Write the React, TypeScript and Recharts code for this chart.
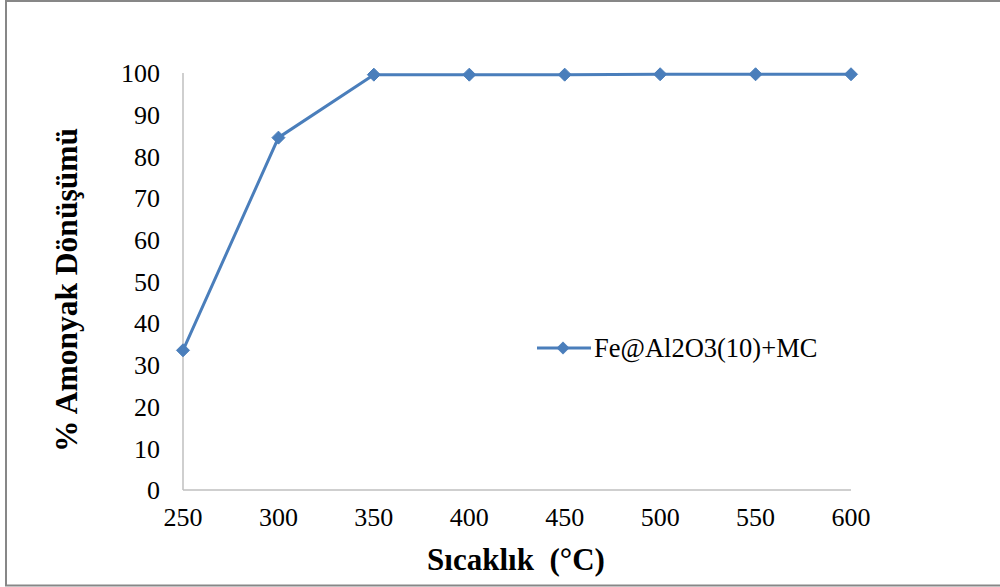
import { LineChart, Line, XAxis, YAxis, Legend } from "recharts";

const temperatures = [250, 300, 350, 400, 450, 500, 550, 600];
const conversion = [33.5, 84.5, 99.6, 99.6, 99.6, 99.7, 99.7, 99.7];
const yTicks = [0, 10, 20, 30, 40, 50, 60, 70, 80, 90, 100];
const seriesName = "Fe@Al2O3(10)+MC";
const xTitle = "Sıcaklık  (°C)";
const yTitle = "% Amonyak Dönüşümü";

const data = temperatures.map((t, i) => ({ t, v: conversion[i] }));

const BLUE = "#4A7EBB";
const AXIS = "#BFBFBF";
const FONT = "Liberation Serif";

const Diamond = (props: any) => {
  const { cx, cy } = props;
  if (cx == null || cy == null) return null;
  const r = 6.5;
  return (
    <polygon
      points={`${cx},${cy - r} ${cx + r},${cy} ${cx},${cy + r} ${cx - r},${cy}`}
      fill={BLUE}
      stroke={BLUE}
    />
  );
};

const XTick = (props: any) => (
  <text x={props.x} y={props.y} dy="0.71em" textAnchor="middle" fontFamily={FONT} fontSize={26} fill="#000">
    {props.payload.value}
  </text>
);

const YTick = (props: any) => (
  <text x={props.x} y={props.y} dy="0.355em" textAnchor="end" fontFamily={FONT} fontSize={26} fill="#000">
    {props.payload.value}
  </text>
);

const LegendBox = () => (
  <svg width={320} height={30} style={{ display: "block" }}>
    <line x1={2} y1={14} x2={56} y2={14} stroke={BLUE} strokeWidth={3} />
    <polygon points="28,7.5 34.5,14 28,20.5 21.5,14" fill={BLUE} />
    <text x={59} y={14} dy="0.355em" fontFamily={FONT} fontSize={26.5} fill="#000">
      {seriesName}
    </text>
  </svg>
);

export default function App() {
  return (
    <div style={{ position: "absolute", left: 0, top: 0, width: 1000, height: 587, background: "#fff" }}>
      <LineChart
        width={1000}
        height={587}
        data={data}
        margin={{ top: 73, right: 149, left: 103, bottom: 67 }}
      >
        <XAxis
          dataKey="t"
          type="number"
          domain={[250, 600]}
          ticks={temperatures}
          height={30}
          tickLine={false}
          tickSize={0}
          tickMargin={18}
          axisLine={{ stroke: AXIS, strokeWidth: 1.5 }}
          tick={<XTick />}
        />
        <YAxis
          type="number"
          domain={[0, 100]}
          ticks={yTicks}
          width={80}
          tickLine={false}
          tickSize={0}
          tickMargin={23}
          axisLine={{ stroke: AXIS, strokeWidth: 1.5 }}
          tick={<YTick />}
        />
        <Legend
          layout="horizontal"
          verticalAlign="middle"
          align="center"
          content={<LegendBox />}
          wrapperStyle={{ position: "absolute", left: 535, top: 334, width: 320 }}
        />
        <Line
          dataKey="v"
          name={seriesName}
          stroke={BLUE}
          strokeWidth={3}
          dot={<Diamond />}
          activeDot={false}
          isAnimationActive={false}
        />
      </LineChart>
      <svg
        width={1000}
        height={587}
        style={{ position: "absolute", left: 0, top: 0, pointerEvents: "none" }}
      >
        <rect x={6} y={1} width={1010} height={584.5} fill="none" stroke="#878787" strokeWidth={2} />
        <text
          x={516}
          y={570}
          textAnchor="middle"
          fontFamily={FONT}
          fontWeight="bold"
          fontSize={31}
          style={{ whiteSpace: "pre" }}
        >
          {xTitle}
        </text>
        <text
          x={77}
          y={290}
          textAnchor="middle"
          fontFamily={FONT}
          fontWeight="bold"
          fontSize={31.5}
          transform="rotate(-90 77 290)"
        >
          {yTitle}
        </text>
      </svg>
    </div>
  );
}
